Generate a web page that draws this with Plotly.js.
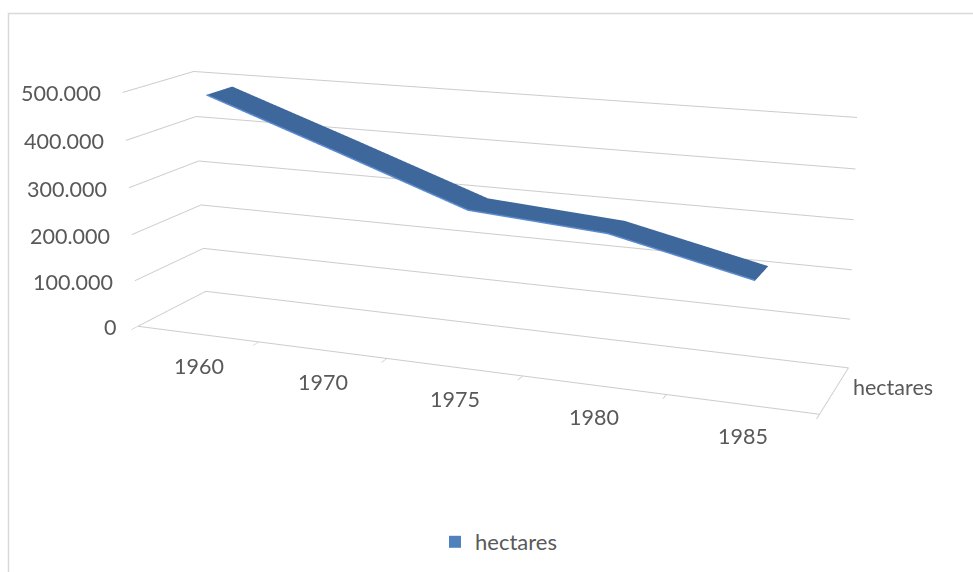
<!DOCTYPE html>
<html><head><meta charset="utf-8">
<script src="https://cdn.plot.ly/plotly-3.0.1.min.js"></script>
<style>
html,body{margin:0;padding:0;overflow:hidden;background:#fff;width:973px;height:572px;}
#wrap{position:absolute;left:0;top:0;width:973px;height:572px;overflow:hidden;}
#chart{position:absolute;left:-50px;top:-543px;width:1300px;height:1394px;}
</style></head><body>
<div id="wrap"><div id="chart"></div></div>
<script>
const years = ['1960', '1970', '1975', '1980', '1985'];
const hectares = [490000, 395000, 298000, 278000, 215000];
const seriesName = 'hectares';
const valueTicks = [0, 100000, 200000, 300000, 400000, 500000];
const valueTickText = ['0', '100.000', '200.000', '300.000', '400.000', '500.000'];

const OFFX = -50, OFFY = -543, W = 1300, H = 1394;
const px = x => (x - OFFX) / W;
const py = y => 1 - (y - OFFY) / H;

const ribbonColor = '#3E679C';
const idx = years.map((_, i) => i);
const boundaries = [-0.5].concat(idx.map(i => i + 0.5));
const depthFront = 0.31, depthBack = 0.69;
const font = {family: 'Lato, "Open Sans", sans-serif', size: 21.5, color: '#595959'};
const gridColor = '#CCCCCC';

const traces = [
  {
    type: 'surface', x: idx, y: [depthFront, depthBack], z: [hectares, hectares],
    colorscale: [[0, ribbonColor], [1, ribbonColor]], showscale: false,
    lighting: {ambient: 1, diffuse: 0, specular: 0, roughness: 1, fresnel: 0},
    hoverinfo: 'skip', showlegend: false
  },
  {
    type: 'scatter3d', mode: 'lines', x: idx, y: idx.map(() => depthFront), z: hectares,
    line: {color: '#5B8CD0', width: 3}, hoverinfo: 'skip', showlegend: false
  },
  {
    type: 'scatter', x: [null], y: [null], mode: 'markers', name: seriesName,
    marker: {symbol: 'square', size: 12, color: '#4F81BD'}, showlegend: true, hoverinfo: 'skip'
  }
];

const baseAxis = {
  showgrid: false, zeroline: false, showline: true, linecolor: gridColor, linewidth: 2,
  ticks: '', showticklabels: false, showbackground: false, showspikes: false, title: {text: ''},
  tickfont: font, tickmode: 'array'
};

const annotations = [];
valueTicks.forEach((v, i) => annotations.push({
  x: -0.5, y: 0, z: v, text: valueTickText[i], showarrow: false,
  xanchor: 'right', yanchor: 'middle', xshift: -20, yshift: -1, font: font
}));
years.forEach((yr, i) => annotations.push({
  x: i, y: 0, z: 0, text: yr, showarrow: false,
  xanchor: 'center', yanchor: 'middle', xshift: 1, yshift: -32, font: font
}));
annotations.push({
  x: 4.5, y: 0.5, z: 0, text: seriesName, showarrow: false,
  xanchor: 'left', yanchor: 'middle', xshift: 16, yshift: 3, font: font
});

const layout = {
  width: W, height: H,
  margin: {l: 0, r: 0, t: 0, b: 0},
  paper_bgcolor: '#ffffff', plot_bgcolor: '#ffffff',
  showlegend: true,
  legend: {x: px(435), y: py(542), xanchor: 'left', yanchor: 'middle', orientation: 'h',
           font: {family: font.family, size: 22, color: '#595959'}},
  xaxis: {visible: false}, yaxis: {visible: false},
  scene: {
    domain: {x: [0, 1], y: [0, 1]},
    aspectmode: 'manual',
    aspectratio: {x: 2.912, y: 0.5155, z: 1},
    camera: {
      eye: {x: 2.654, y: -5.931, z: 1.788},
      center: {x: 0.429, y: 0.241, z: 0.282},
      up: {x: 0, y: 0, z: 1},
      projection: {type: 'perspective'}
    },
    xaxis: Object.assign({}, baseAxis, {range: [-0.5, 4.5], tickvals: boundaries,
      ticks: 'outside', ticklen: 8, tickcolor: gridColor, tickwidth: 2}),
    yaxis: Object.assign({}, baseAxis, {range: [0, 1], tickvals: [0.5]}),
    zaxis: Object.assign({}, baseAxis, {range: [0, 500000], tickvals: valueTicks,
      showgrid: true, gridcolor: gridColor, gridwidth: 2, showline: false}),
    annotations: annotations
  },
  shapes: [{type: 'rect', xref: 'paper', yref: 'paper', x0: px(8.5), y0: py(13.5), x1: px(1100), y1: py(700),
            line: {color: '#D9D9D9', width: 1.5}, fillcolor: 'rgba(0,0,0,0)'}]
};

Plotly.newPlot('chart', traces, layout, {displayModeBar: false});
</script>
</body></html>
